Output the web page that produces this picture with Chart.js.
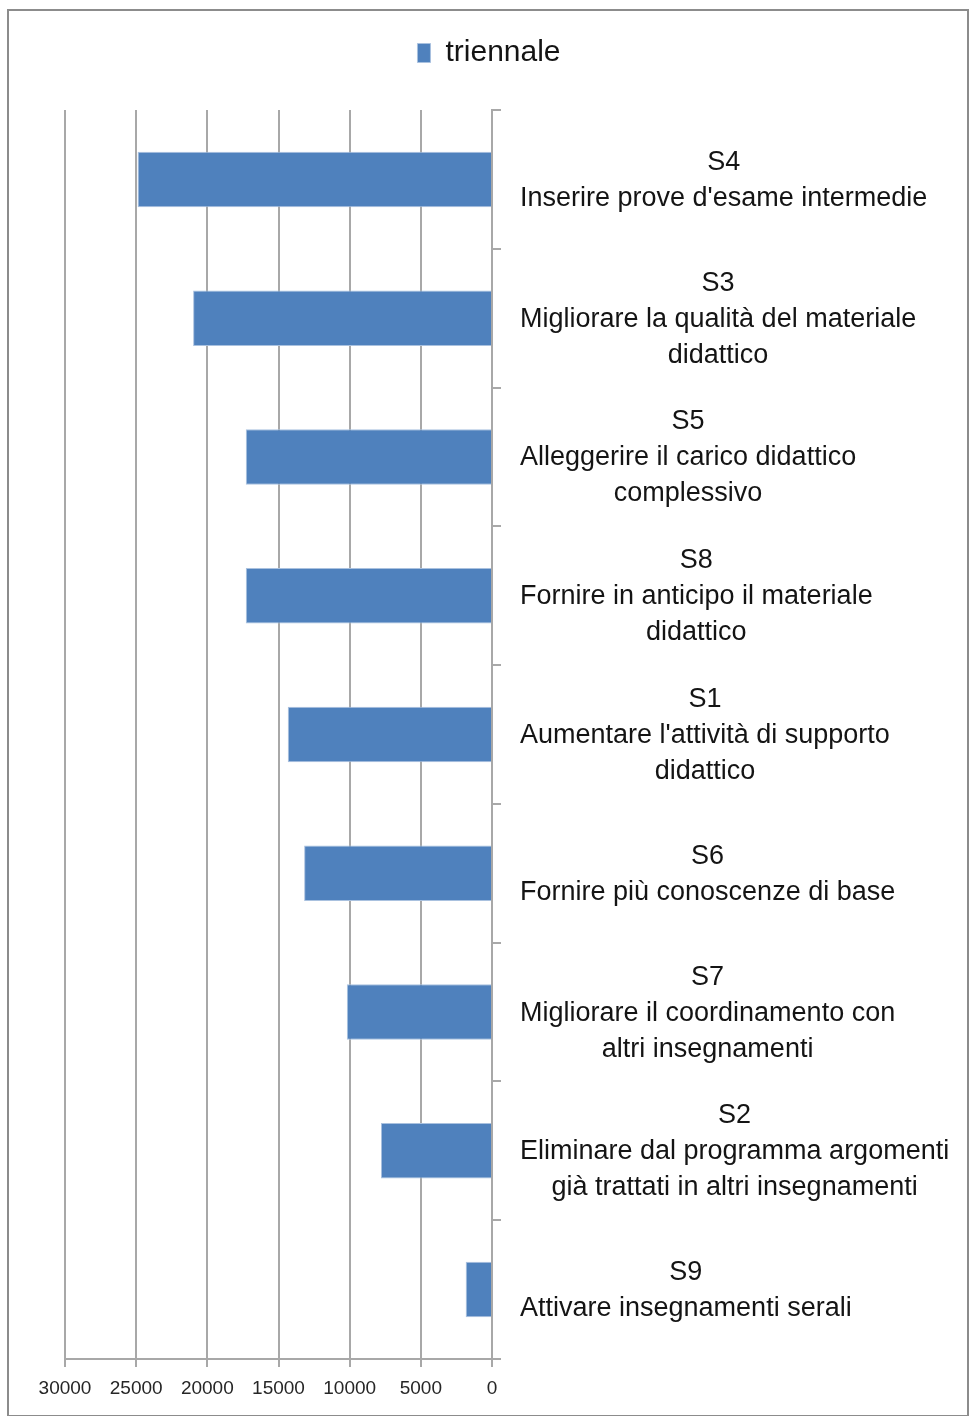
<!DOCTYPE html>
<html lang="it">
<head>
    <meta charset="UTF-8">
    <title>triennale</title>
    <script src="https://cdn.jsdelivr.net/npm/chart.js"></script>
    <style>
        body {
            margin: 0;
            background: #ffffff;
        }
        .wrap {
            position: relative;
            width: 970px;
            height: 1416px;
        }
        .frame {
            position: absolute;
            left: 7px;
            top: 9px;
            width: 958px;
            height: 1404px;
            border: 2px solid #8c8c8c;
            pointer-events: none;
        }
        canvas {
            position: absolute;
            left: 0;
            top: 0;
        }
    </style>
</head>
<body>
    <div class="wrap">
        <canvas id="chart" width="970" height="1416"></canvas>
        <div class="frame"></div>
    </div>
    <script>
        const seriesName = 'triennale';
        const codes = ['S4', 'S3', 'S5', 'S8', 'S1', 'S6', 'S7', 'S2', 'S9'];
        const descriptions = [
            ["Inserire prove d'esame intermedie"],
            ['Migliorare la qualità del materiale', 'didattico'],
            ['Alleggerire il carico didattico', 'complessivo'],
            ['Fornire in anticipo il materiale', 'didattico'],
            ["Aumentare l'attività di supporto", 'didattico'],
            ['Fornire più conoscenze di base'],
            ['Migliorare il coordinamento con', 'altri insegnamenti'],
            ['Eliminare dal programma argomenti', 'già trattati in altri insegnamenti'],
            ['Attivare insegnamenti serali']
        ];
        const values = [24900, 21000, 17300, 17300, 14350, 13200, 10200, 7800, 1850];

        const labels = codes.map((c, i) => [c].concat(descriptions[i]));
        const gridColor = '#a8a8a8';
        const fontFamily = '"Liberation Sans", Arial, sans-serif';
        const labelFont = '27px ' + fontFamily;

        // taller legend box so the plot starts lower, and centre it on the whole page
        const legendGap = {
            id: 'legendGap',
            beforeUpdate(chart) {
                const legend = chart.legend;
                if (legend && !legend._gapDone) {
                    const fit = legend.fit;
                    legend.fit = function () {
                        fit.call(this);
                        this.height += 32;
                    };
                    legend._gapDone = true;
                }
            },
            afterLayout(chart) {
                chart.legend.left = 8;
                chart.legend.right = chart.width;
            }
        };

        // right axis labels: block starts after the tick, each line centred in its block
        const blockLabels = {
            id: 'blockLabels',
            afterDraw(chart) {
                const s = chart.scales.y;
                const ctx = chart.ctx;
                ctx.save();
                ctx.font = labelFont;
                ctx.fillStyle = '#141414';
                ctx.textAlign = 'center';
                ctx.textBaseline = 'middle';
                s.ticks.forEach((t, i) => {
                    const lines = t.label;
                    const w = Math.max(...lines.map(l => ctx.measureText(l).width));
                    const cx = s.left + 28 + w / 2;
                    const cy = s.getPixelForTick(i) + 1;
                    lines.forEach((l, j) => {
                        ctx.fillText(l, cx, cy + (j - (lines.length - 1) / 2) * 36);
                    });
                });
                ctx.restore();
            }
        };

        new Chart(document.getElementById('chart').getContext('2d'), {
            type: 'bar',
            data: {
                labels: labels,
                datasets: [{
                    label: seriesName,
                    data: values,
                    backgroundColor: '#4f81bd',
                    borderColor: '#a9c1df',
                    borderWidth: 1,
                    barPercentage: 0.4,
                    categoryPercentage: 1
                }]
            },
            options: {
                indexAxis: 'y',
                responsive: false,
                animation: false,
                layout: { padding: { left: 65, right: 0, top: 28, bottom: 0 } },
                plugins: {
                    legend: {
                        position: 'top',
                        labels: {
                            boxWidth: 13,
                            boxHeight: 19,
                            padding: 10,
                            color: '#141414',
                            font: { family: fontFamily, size: 30 }
                        }
                    },
                    tooltip: { enabled: false }
                },
                scales: {
                    x: {
                        reverse: true,
                        min: 0,
                        max: 30000,
                        ticks: {
                            stepSize: 5000,
                            padding: 10,
                            color: '#262626',
                            font: { family: fontFamily, size: 19 },
                            maxRotation: 0,
                            callback: v => String(v)
                        },
                        grid: { color: gridColor, lineWidth: 2, tickLength: 8 },
                        border: { display: true, color: gridColor, width: 2 },
                        afterFit(s) { s.height = 57; }
                    },
                    y: {
                        position: 'right',
                        ticks: { display: false },
                        grid: {
                            drawOnChartArea: false,
                            drawTicks: true,
                            tickLength: 9,
                            offset: true,
                            color: gridColor,
                            lineWidth: 2
                        },
                        border: { display: true, color: gridColor, width: 2 },
                        afterFit(s) { s.width = 478; }
                    }
                }
            },
            plugins: [legendGap, blockLabels]
        });
    </script>
</body>
</html>
